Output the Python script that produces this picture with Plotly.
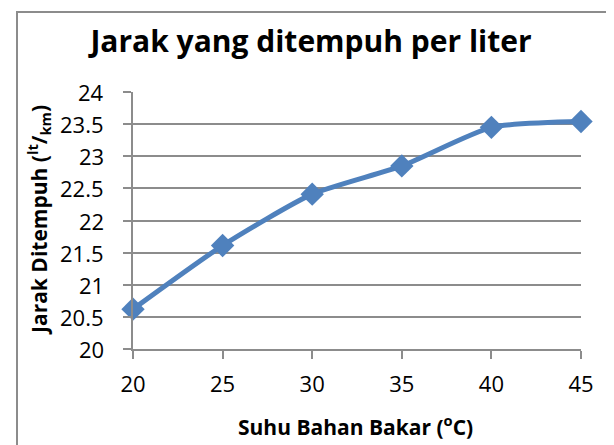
import plotly.graph_objects as go

suhu = [20, 25, 30, 35, 40, 45]
jarak = [20.62, 21.61, 22.41, 22.85, 23.45, 23.54]
y_ticks = [20, 20.5, 21, 21.5, 22, 22.5, 23, 23.5, 24]
y_tick_labels = ["20", "20.5", "21", "21.5", "22", "22.5", "23", "23.5", "24"]
x_ticks = [20, 25, 30, 35, 40, 45]

FONT = "Open Sans, Lato, sans-serif"
GRID = "#8c8c8c"

fig = go.Figure()
fig.add_trace(go.Scatter(
    x=suhu, y=jarak, mode="lines+markers",
    line=dict(color="#4F81BD", width=5, shape="spline", smoothing=0.6),
    marker=dict(symbol="diamond", size=18, color="#4F81BD"),
    showlegend=False, cliponaxis=False,
))

# figure is drawn inside the page body (8px margin), so pixel targets are shifted by 8
W, H = 606, 437
L, R, T, B = 125, 33, 84, 96
pw, ph = W - L - R, H - T - B

def px_x(p):
    return (p - L) / pw

def px_y(p):
    return (H - B - p) / ph

annotations = [
    dict(text="<b>Suhu Bahan Bakar (<sup>o</sup>C)</b>", xref="paper", yref="paper",
         x=px_x(347), y=px_y(417), xanchor="center", yanchor="middle", showarrow=False,
         font=dict(size=21, family=FONT)),
    dict(text="<b>Jarak Ditempuh (<sup>lt</sup>/<sub>km</sub>)</b>", xref="paper", yref="paper",
         x=px_x(30), y=px_y(212), xanchor="center", yanchor="middle", textangle=-90, showarrow=False,
         font=dict(size=21, family=FONT)),
]
for v, t in zip(y_ticks, y_tick_labels):
    annotations.append(dict(text=t, xref="paper", yref="y", x=px_x(98), y=v, xanchor="right",
                            yanchor="middle", showarrow=False, font=dict(size=22, family=FONT)))

fig.update_layout(
    width=W, height=H,
    margin=dict(l=L, r=R, t=T, b=B),
    paper_bgcolor="white", plot_bgcolor="white",
    font=dict(family=FONT, color="black", size=22),
    title=dict(text="<b>Jarak yang ditempuh per liter</b>", x=303 / W, xanchor="center",
               y=1 - 33 / H, yanchor="middle", font=dict(size=30, family=FONT)),
    xaxis=dict(range=[20, 45], tickvals=x_ticks, showgrid=False, showline=True, linecolor=GRID,
               linewidth=1.5, ticks="outside", ticklen=8, tickcolor=GRID, tickwidth=1.5,
               zeroline=False, ticklabelstandoff=7, tickfont=dict(size=22)),
    yaxis=dict(range=[20, 24], tickvals=y_ticks, showticklabels=False, showgrid=True, gridcolor=GRID,
               gridwidth=1.5, showline=True, linecolor=GRID, linewidth=1.5, ticks="outside", ticklen=8,
               tickcolor=GRID, tickwidth=1.5, zeroline=False),
    annotations=annotations,
    shapes=[
        dict(type="rect", xref="paper", yref="paper", x0=px_x(9), x1=px_x(603), y0=px_y(460), y1=px_y(4),
             line=dict(color="#8c8c8c", width=2), layer="below"),
    ],
)

fig.write_html("out.html")
